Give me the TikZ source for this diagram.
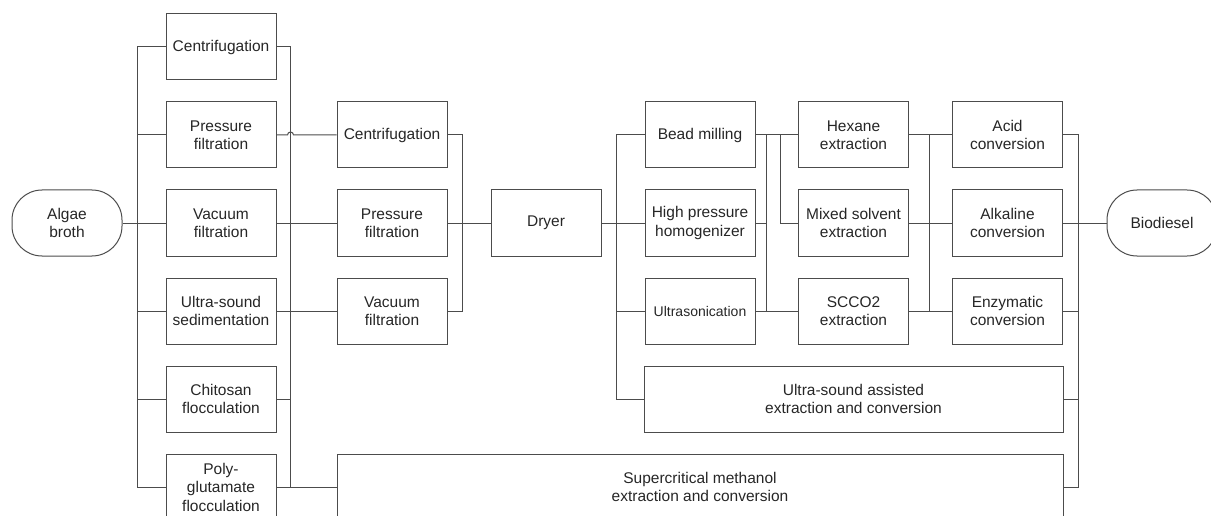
\documentclass[tikz,border=0pt]{standalone}
\usepackage{fontspec}
\setmainfont{Liberation Sans}
\begin{document}
\begin{tikzpicture}[x=1pt, y=-1pt, line width=1pt, black!70,
	box/.style={draw, rectangle, minimum width=110pt, minimum height=66pt, inner sep=0pt, align=center, text=black!85, font=\fontsize{15.5}{18.5}\selectfont},
	term/.style={box, rounded corners=30pt}]
	\useasboundingbox (0, 0) rectangle (1211, 516);
	% harvesting
	\node (alg) at (67, 223) [term] {Algae\\broth};
	\node (a1) at (221, 47) [box] {Centrifugation};
	\node (a2) at (221, 135) [box] {Pressure\\filtration};
	\node (a3) at (221, 223) [box] {Vacuum\\filtration};
	\node (a4) at (221, 311) [box] {Ultra-sound\\sedimentation};
	\node (a5) at (221, 399) [box] {Chitosan\\flocculation};
	\node (a6) at (221, 487) [box] {Poly-\\glutamate\\flocculation};
	\node (b1) at (392, 135) [box] {Centrifugation};
	\node (b2) at (392, 223) [box] {Pressure\\filtration};
	\node (b3) at (392, 311) [box] {Vacuum\\filtration};
	\node (dry) at (546, 223) [box] {Dryer};
	% extraction and conversion
	\node (c1) at (700, 135) [box] {Bead milling};
	\node (c2) at (700, 223) [box] {High pressure\\homogenizer};
	\node (c3) at (700, 311) [box, font=\fontsize{14}{17}\selectfont] {Ultrasonication};
	\node (d1) at (853.5, 135) [box] {Hexane\\extraction};
	\node (d2) at (853.5, 223) [box] {Mixed solvent\\extraction};
	\node (d3) at (853.5, 311) [box] {SCCO2\\extraction};
	\node (e1) at (1007.5, 135) [box] {Acid\\conversion};
	\node (e2) at (1007.5, 223) [box] {Alkaline\\conversion};
	\node (e3) at (1007.5, 311) [box] {Enzymatic\\conversion};
	\node (usa) at (853.5, 399) [box, minimum width=419pt] {Ultra-sound assisted\\extraction and conversion};
	\node (sc) at (700, 487) [box, minimum width=726pt] {Supercritical methanol\\extraction and conversion};
	\node (bio) at (1162, 223) [term] {Biodiesel};
	% buses
	\coordinate (busA) at (137, 0);
	\coordinate (busB) at (290, 0);
	\coordinate (busC) at (462, 0);
	\coordinate (busD) at (616, 0);
	\coordinate (busE) at (766, 0);
	\coordinate (busF) at (780, 0);
	\coordinate (busG) at (929, 0);
	\coordinate (busH) at (1078, 0);
	\draw (alg.east) -- (a3.west);
	\draw (a1.west) -| (a6.west -| busA) -- (a6.west);
	\foreach \n in {a2, a3, a4, a5}
		\draw (\n.west) -- (\n.west -| busA);
	\draw (a1.east) -| (a6.east -| busB);
	\draw (a6.east) -- (sc.west);
	\draw (a2.east) -- ++(11, 0) arc[start angle=180, end angle=0, radius=3pt] -- (b1.west);
	\draw (a3.east) -- (b2.west);
	\draw (a4.east) -- (b3.west);
	\draw (a5.east) -- (a5.east -| busB);
	\draw (b1.east) -| (b3.east -| busC) -- (b3.east);
	\draw (b2.east) -- (dry.west);
	\draw (dry.east) -- (c2.west);
	\draw (c1.west) -| (usa.west -| busD) -- (usa.west);
	\draw (c3.west) -- (c3.west -| busD);
	\draw (c1.east) -- (d1.west);
	\draw (c1.east -| busE) -- (c3.east -| busE);
	\draw (c2.east) -- (c2.east -| busE);
	\draw (c3.east) -- (d3.west);
	\draw (c1.east -| busF) |- (d2.west);
	\foreach \i in {1, 2, 3}
		\draw (d\i.east) -- (e\i.west);
	\draw (d1.east -| busG) -- (d3.east -| busG);
	\draw (e1.east) -| (sc.east -| busH) -- (sc.east);
	\draw (e2.east) -- (bio.west);
	\draw (e3.east) -- (e3.east -| busH);
	\draw (usa.east) -- (usa.east -| busH);
\end{tikzpicture}
\end{document}
